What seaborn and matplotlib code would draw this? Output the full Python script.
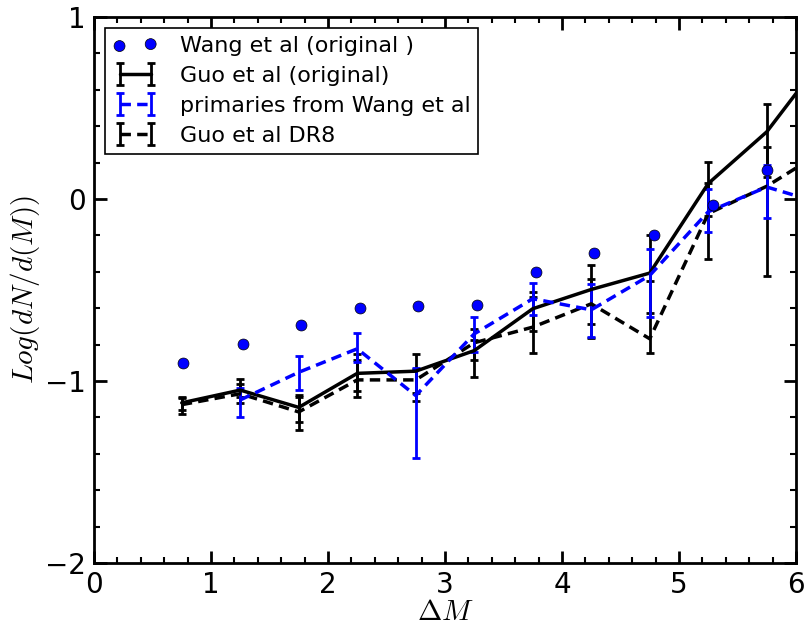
import matplotlib
matplotlib.use("Agg")
import matplotlib.pyplot as plt
import numpy as np
import pandas as pd
import seaborn as sns
from matplotlib.ticker import MultipleLocator

# Wang et al (original) luminosity-gap counts
wang_x = [0.76, 1.27, 1.77, 2.27, 2.77, 3.27, 3.78, 4.27, 4.79, 5.29, 5.75]
wang_y = [-0.90, -0.795, -0.69, -0.60, -0.59, -0.58, -0.40, -0.295, -0.196, -0.035, 0.158]

# Guo et al (original)
guo_x = [0.75, 1.25, 1.75, 2.25, 2.75, 3.25, 3.75, 4.25, 4.75, 5.25, 5.75, 6.25]
guo_y = [-1.12, -1.05, -1.145, -0.958, -0.946, -0.833, -0.603, -0.497, -0.407, 0.085, 0.369, 0.79]
guo_lo = [0.04, 0.04, 0.08, 0.095, 0.12, 0.05, 0.12, 0.19, 0.22, 0.18, 0.248, 0.2]
guo_hi = [0.03, 0.06, 0.07, 0.107, 0.095, 0.06, 0.09, 0.136, 0.21, 0.12, 0.152, 0.2]

# primaries from Wang et al
prim_x = [1.25, 1.75, 2.25, 2.75, 3.25, 3.75, 4.25, 4.75, 5.25, 5.75, 6.25]
prim_y = [-1.104, -0.952, -0.823, -1.08, -0.741, -0.548, -0.609, -0.42, -0.07, 0.066, -0.03]
prim_lo = [0.096, 0.097, 0.07, 0.343, 0.10, 0.092, 0.15, 0.23, 0.11, 0.17, 0.1]
prim_hi = [0.066, 0.092, 0.088, 0.152, 0.092, 0.086, 0.14, 0.147, 0.125, 0.123, 0.1]

# Guo et al DR8
dr8_x = [0.75, 1.25, 1.75, 2.25, 2.75, 3.25, 3.75, 4.25, 4.75, 5.25, 5.75, 6.25]
dr8_y = [-1.13, -1.07, -1.17, -0.994, -0.994, -0.79, -0.704, -0.576, -0.768, -0.08, 0.07, 0.27]
dr8_lo = [0.05, 0.05, 0.10, 0.096, 0.114, 0.19, 0.14, 0.19, 0.08, 0.25, 0.495, 0.2]
dr8_hi = [0.035, 0.055, 0.08, 0.11, 0.06, 0.077, 0.164, 0.138, 0.315, 0.17, 0.216, 0.2]

sns.set_theme(style="white", rc={
    "axes.edgecolor": "black",
    "axes.labelcolor": "black",
    "text.color": "black",
    "axes.linewidth": 2.0,
    "xtick.direction": "in",
    "ytick.direction": "in",
    "xtick.top": True,
    "ytick.right": True,
    "xtick.bottom": True,
    "ytick.left": True,
    "xtick.major.size": 9,
    "ytick.major.size": 9,
    "xtick.minor.size": 4.5,
    "ytick.minor.size": 4.5,
    "xtick.major.width": 2.0,
    "ytick.major.width": 2.0,
    "xtick.minor.width": 1.5,
    "ytick.minor.width": 1.5,
    "xtick.major.pad": 6,
    "ytick.major.pad": 6,
    "xtick.color": "black",
    "ytick.color": "black",
    "xtick.labelcolor": "black",
    "ytick.labelcolor": "black",
    "xtick.labelsize": 20,
    "ytick.labelsize": 20,
    "mathtext.fontset": "cm",
})
plt.rcParams["font.family"] = ["DejaVu Sans"]

fig = plt.figure(figsize=(8.06, 6.26), dpi=100)
ax = fig.add_axes([94 / 806, 1 - 563 / 626, (796 - 94) / 806, (563 - 17) / 626])

dash = (0, (3.0, 1.8))
err_kw = dict(capsize=3, capthick=2, elinewidth=2, lw=2.5)

h_guo = ax.errorbar(guo_x, guo_y, yerr=[guo_lo, guo_hi], color="black",
                    linestyle="-", label="Guo et al (original)", **err_kw)
h_dr8 = ax.errorbar(dr8_x, dr8_y, yerr=[dr8_lo, dr8_hi], color="black",
                    linestyle=dash, label="Guo et al DR8", **err_kw)
h_prim = ax.errorbar(prim_x, prim_y, yerr=[prim_lo, prim_hi], color="blue",
                     linestyle=dash, label="primaries from Wang et al", **err_kw)

wang = pd.DataFrame({"dM": wang_x, "logn": wang_y})
sns.scatterplot(data=wang, x="dM", y="logn", ax=ax, color="blue", s=62,
                edgecolor="black", linewidth=0.5, zorder=5,
                label="Wang et al (original )")
h_wang = ax.collections[-1]

ax.set_xlim(0, 6)
ax.set_ylim(-2, 1)
ax.xaxis.set_major_locator(MultipleLocator(1))
ax.xaxis.set_minor_locator(MultipleLocator(0.2))
ax.yaxis.set_minor_locator(MultipleLocator(0.2))
ax.set_yticks([-2, -1, 0, 1])
ax.set_yticklabels(["\u22122", "\u22121", "0", "1"])

ax.set_xlabel(r"$\Delta M$", fontsize=21, labelpad=-1)
ax.set_ylabel(r"$Log(dN/d(M))$", fontsize=21)
ax.yaxis.set_label_coords(-0.074, 0.5)

leg = ax.legend([h_wang, h_guo, h_prim, h_dr8],
                ["Wang et al (original )", "Guo et al (original)",
                 "primaries from Wang et al", "Guo et al DR8"],
                loc="upper left", fontsize=16, scatterpoints=2, numpoints=2,
                frameon=True, fancybox=False, edgecolor="black",
                handlelength=2.0, handletextpad=1.0, labelspacing=0.45,
                borderpad=0.35, borderaxespad=0.5)
leg.get_frame().set_linewidth(1.2)
leg.get_frame().set_alpha(1)

fig.savefig("out.png", dpi=100)
